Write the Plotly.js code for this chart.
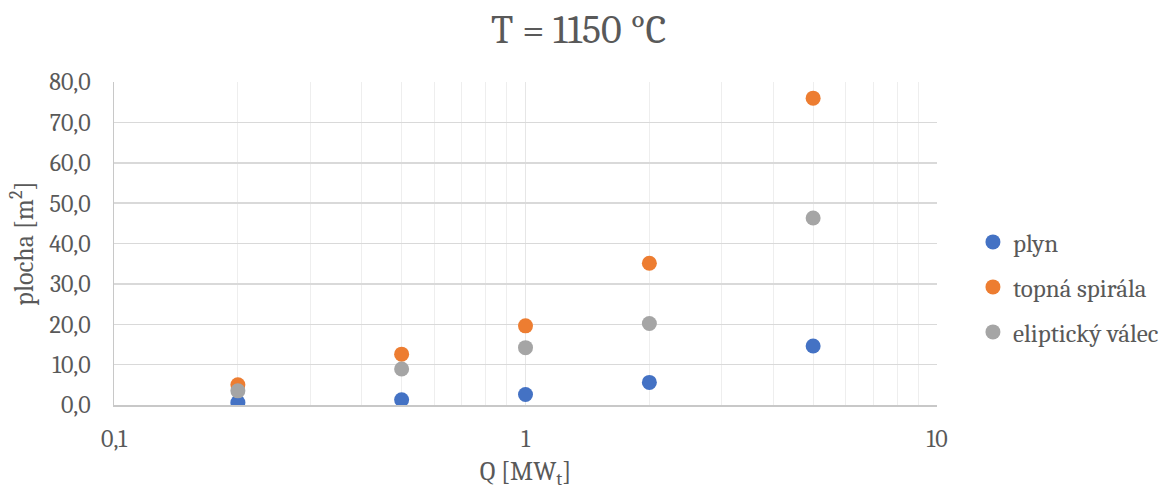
<!DOCTYPE html>
<html>
<head>
<meta charset="utf-8">
<script src="https://cdn.plot.ly/plotly-3.0.1.min.js"></script>
<style>html,body{margin:0;padding:0;background:#fff;}#chart{width:1162px;height:490px;}</style>
</head>
<body>
<div id="chart"></div>
<script>
const Q = [0.2, 0.5, 1, 2, 5];
const plyn = [0.6, 1.3, 2.6, 5.6, 14.6];
const topnaSpirala = [5.0, 12.6, 19.6, 35.1, 76.0];
const eliptickyValec = [3.5, 8.9, 14.2, 20.2, 46.3];
const seriesNames = ['plyn', 'topná spirála', 'eliptický válec'];
const seriesColors = ['#4472C4', '#ED7D31', '#A5A5A5'];
const xTickVals = [0.1, 1, 10];
const xTickText = ['0,1', '1', '10'];
const xMinorVals = [0.2,0.3,0.4,0.5,0.6,0.7,0.8,0.9,2,3,4,5,6,7,8,9];

const FONT = 'Cambria, Caladea, "Liberation Serif", serif';
const TXT = '#595959';

const ys = [plyn, topnaSpirala, eliptickyValec];
const traces = ys.map((y, i) => ({
  type: 'scatter', mode: 'markers', x: Q, y: y, name: seriesNames[i],
  legendgroup: 'g' + i,
  marker: {color: seriesColors[i], size: 15}
}));

const layout = {
  width: 1162, height: 490,
  margin: {l: 114, r: 225, t: 82, b: 85},
  paper_bgcolor: '#fff', plot_bgcolor: '#fff',
  separators: ', ',
  font: {family: FONT, color: TXT, size: 24},
  title: {text: 'T = 1150 °C', font: {family: FONT, size: 40, color: TXT}, x: 0.498, xanchor: 'center', y: 0.941, yanchor: 'middle'},
  xaxis: {
    type: 'log', range: [-1, 1],
    tickmode: 'array', tickvals: xTickVals, ticktext: xTickText,
    showgrid: true, gridcolor: '#e6e6e6', gridwidth: 1,
    minor: {tickmode: 'array', tickvals: xMinorVals, showgrid: true, gridcolor: '#eeeeee', gridwidth: 1, ticks: ''},
    showline: true, linecolor: '#c8c8c8', linewidth: 1.5, mirror: false,
    zeroline: false, ticks: '', ticklabelstandoff: 12,
    tickfont: {family: FONT, size: 24, color: TXT},
    title: {text: 'Q [MW<sub>t</sub>]', font: {family: FONT, size: 26, color: TXT}, standoff: 12}
  },
  yaxis: {
    range: [0, 80], dtick: 10, tickformat: '.1f',
    showgrid: true, gridcolor: '#d9d9d9', gridwidth: 1.5,
    showline: true, linecolor: '#c8c8c8', linewidth: 1.5,
    zeroline: false, ticks: '', ticklabelstandoff: 17,
    tickfont: {family: FONT, size: 24, color: TXT},
    title: {text: 'plocha [m<sup>2</sup>]', font: {family: FONT, size: 26, color: TXT}, standoff: 8}
  },
  showlegend: true,
  legend: {xref: 'container', yref: 'container', x: 0.8373, xanchor: 'left', y: 0.414, yanchor: 'middle', tracegroupgap: 9.5,
    font: {family: FONT, size: 25, color: TXT}, itemwidth: 30, bgcolor: 'rgba(0,0,0,0)'}
};

Plotly.newPlot('chart', traces, layout, {displayModeBar: false, staticPlot: true});
</script>
</body>
</html>
